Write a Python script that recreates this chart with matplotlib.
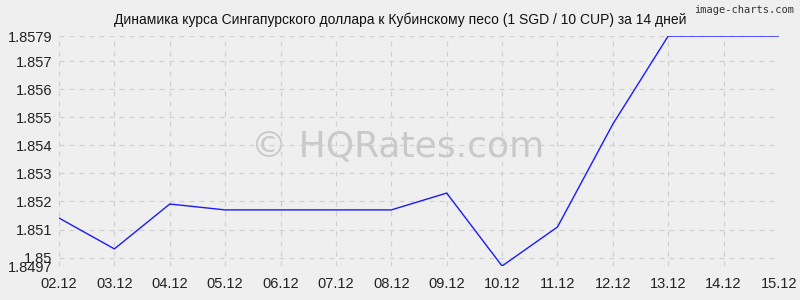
import matplotlib
matplotlib.use("Agg")
import matplotlib.pyplot as plt

plt.rcParams['font.family'] = ['Liberation Sans', 'DejaVu Sans']

dates = ['02.12', '03.12', '04.12', '05.12', '06.12', '07.12', '08.12',
         '09.12', '10.12', '11.12', '12.12', '13.12', '14.12', '15.12']
rates = [1.85141, 1.85031, 1.85191, 1.85170, 1.85170, 1.85170, 1.85170,
         1.85230, 1.8497, 1.85109, 1.85476, 1.8579, 1.8579, 1.8579]
yticks = [1.8497, 1.85, 1.851, 1.852, 1.853, 1.854, 1.855, 1.856, 1.857, 1.8579]
ytick_labels = ['1.8497', '1.85', '1.851', '1.852', '1.853', '1.854',
                '1.855', '1.856', '1.857', '1.8579']

bg = '#efefef'
fig = plt.figure(figsize=(8, 3), dpi=100, facecolor=bg)
ax = fig.add_axes([59 / 800, 34 / 300, 720 / 800, 230 / 300], facecolor=bg)

x = list(range(len(dates)))
ax.plot(x, rates, color='#1a1aff', linewidth=1.0, zorder=3)

ax.set_xlim(0, len(dates) - 1)
ax.set_ylim(1.8497, 1.8579)
ax.set_xticks(x)
ax.set_xticklabels(dates)
ax.set_yticks(yticks)
ax.set_yticklabels(ytick_labels)
ax.tick_params(length=0, labelsize=10.5, colors='#222222', pad=5)
ax.tick_params(axis='x', pad=8)
ax.grid(True, color='#d0d0d0', linestyle=(0, (4, 4)), linewidth=0.9)
for s in ax.spines.values():
    s.set_visible(False)

ax.text(0.47, 0.52, '© HQRates.com', transform=ax.transAxes, ha='center',
        va='center', fontsize=26, color='#c9c9c9', zorder=1,
        family=['DejaVu Sans'])

fig.text(0.5, 0.935, 'Динамика курса Сингапурского доллара к Кубинскому песо (1 SGD / 10 CUP) за 14 дней',
         ha='center', va='center', fontsize=10, color='#111111')
fig.text(0.993, 0.968, 'image-charts.com', ha='right', va='center',
         fontsize=7.5, color='#333333', family=['DejaVu Sans Mono'])

fig.savefig('out.png', dpi=100, facecolor=bg)
